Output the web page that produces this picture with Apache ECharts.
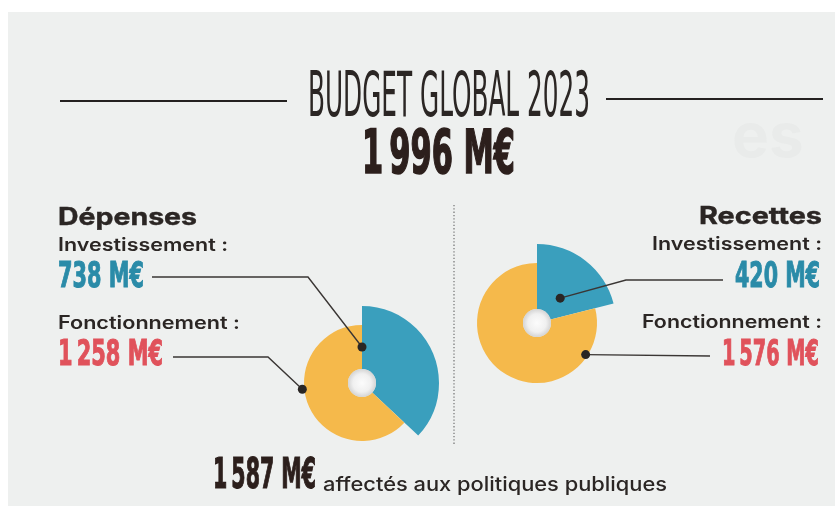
<!DOCTYPE html>
<html>
<head>
<meta charset="utf-8">
<script src="https://cdn.jsdelivr.net/npm/echarts@6/dist/echarts.min.js"></script>
<style>
  html, body { margin: 0; padding: 0; background: #ffffff; }
  #chart { width: 835px; height: 506px; }
</style>
</head>
<body>
<div id="chart"></div>
<script>
// Budget data (M€)
const categories = ['Investissement', 'Fonctionnement'];
const expenseValues = [738, 1258];   // Dépenses
const revenueValues = [420, 1576];   // Recettes
const totalBudget = 1996;
const publicPolicies = 1587;
const titleText = 'BUDGET GLOBAL 2023';

const BLUE = '#3a9fbd';
const YELLOW = '#f5b94b';
const TEAL_TEXT = '#2a8ba8';
const RED_TEXT = '#e0525b';
const DARK = '#2b2624';
const BROWN = '#2c1f1c';
const BG = '#eef0ef';

const NARROW = '"Liberation Sans Narrow", "DejaVu Sans Condensed", "Liberation Sans", sans-serif';
const SANS = '"Inter", "Noto Sans", "Liberation Sans", sans-serif';

function money(n) {
  if (n >= 1000) {
    return Math.floor(n / 1000) + '\u2009' + String(n % 1000).padStart(3, '0') + ' M€';
  }
  return n + ' M€';
}

const measureCtx = document.createElement('canvas').getContext('2d');
function textWidth(text, font) {
  measureCtx.font = font;
  return measureCtx.measureText(text).width;
}

// Text placed on its baseline, horizontally fitted to a given width
function fittedText(text, opts) {
  const font = (opts.weight || 'normal') + ' ' + opts.size + 'px ' + opts.family;
  const sx = opts.width ? opts.width / textWidth(text, font) : 1;
  const style = {
    text: text,
    font: font,
    fill: opts.color || DARK,
    align: opts.align || 'left',
    verticalAlign: 'middle'
  };
  if (opts.heavy) {
    style.stroke = opts.color || DARK;
    style.lineWidth = opts.heavy;
  }
  return {
    type: 'text',
    x: opts.x,
    y: opts.baseline - 0.35 * opts.size,
    scaleX: sx,
    silent: true,
    z: 10,
    style: style
  };
}

function polar(center, r, deg) {
  // deg measured clockwise from 12 o'clock
  const a = deg * Math.PI / 180;
  return [center[0] + r * Math.sin(a), center[1] - r * Math.cos(a)];
}

const leftCenter = [362, 383];
const rightCenter = [537, 323];
const holeR = 14;

function ringSeries(center, values, outerR, showIndex, color) {
  return {
    type: 'pie',
    center: center,
    radius: [holeR, outerR],
    startAngle: 90,
    clockwise: true,
    silent: true,
    animation: false,
    label: { show: false },
    labelLine: { show: false },
    emphasis: { disabled: true },
    itemStyle: { borderWidth: 0 },
    data: values.map((v, i) => ({
      name: categories[i],
      value: v,
      itemStyle: { color: i === showIndex ? color : 'rgba(0,0,0,0)' }
    }))
  };
}

function holeSeries(center) {
  return {
    type: 'pie',
    center: center,
    radius: [0, holeR],
    silent: true,
    animation: false,
    label: { show: false },
    labelLine: { show: false },
    emphasis: { disabled: true },
    data: [{
      value: 1,
      itemStyle: {
        color: {
          type: 'radial', x: 0.5, y: 0.5, r: 0.5,
          colorStops: [
            { offset: 0, color: '#fcfcfc' },
            { offset: 0.65, color: '#f0f0f0' },
            { offset: 1, color: '#d4d4d4' }
          ]
        }
      }
    }]
  };
}

function dot(p) {
  return { type: 'circle', shape: { cx: p[0], cy: p[1], r: 4.5 }, style: { fill: '#2a2624' }, silent: true, z: 12 };
}
function leader(points) {
  return { type: 'polyline', shape: { points: points }, style: { stroke: '#3a3634', lineWidth: 1.4, fill: null }, silent: true, z: 11 };
}

// Leader anchors on the rings
const lInvDot = polar(leftCenter, 36, 0);
const lFonDot = polar(leftCenter, 60, 264);
const rInvDot = polar(rightCenter, 34, 43);
const rFonDot = polar(rightCenter, 58, 123);

const graphics = [
  // paper
  { type: 'rect', shape: { x: 8, y: 12, width: 827, height: 494 }, style: { fill: BG }, silent: true, z: 0 },
  // faint show-through lettering
  { type: 'text', x: 732, y: 138, silent: true, z: 1,
    style: { text: 'es', font: 'bold 62px ' + SANS, fill: 'rgba(120,125,125,0.035)', verticalAlign: 'middle' } },
  // title rules
  { type: 'line', shape: { x1: 60, y1: 101, x2: 287, y2: 101 }, style: { stroke: '#242120', lineWidth: 2 }, silent: true, z: 5 },
  { type: 'line', shape: { x1: 606, y1: 99, x2: 823, y2: 99 }, style: { stroke: '#242120', lineWidth: 2 }, silent: true, z: 5 },
  fittedText(titleText, { x: 308, baseline: 122, size: 63, family: NARROW, weight: 'normal', width: 282, color: DARK }),
  fittedText(money(totalBudget), { x: 362, baseline: 178, size: 60, family: NARROW, weight: 'bold', width: 153, color: BROWN, heavy: 1.6 }),
  // divider
  { type: 'line', shape: { x1: 454, y1: 205, x2: 454, y2: 445 }, style: { stroke: '#7a7a7a', lineWidth: 1.3, lineDash: [1.3, 2] }, silent: true, z: 5 },

  // Dépenses block
  fittedText('Dépenses', { x: 58, baseline: 226, size: 24, family: SANS, weight: 'bold', width: 139, color: DARK, heavy: 0.4 }),
  fittedText(categories[0] + ' :', { x: 58, baseline: 252, size: 18, family: SANS, weight: '600', width: 170, color: DARK }),
  fittedText(money(expenseValues[0]), { x: 58, baseline: 290, size: 36, family: NARROW, weight: 'bold', width: 86, color: TEAL_TEXT, heavy: 1 }),
  fittedText(categories[1] + ' :', { x: 58, baseline: 330, size: 18, family: SANS, weight: '600', width: 182, color: DARK }),
  fittedText(money(expenseValues[1]), { x: 58, baseline: 368, size: 36, family: NARROW, weight: 'bold', width: 105, color: RED_TEXT, heavy: 1 }),

  // Recettes block
  fittedText('Recettes', { x: 822, baseline: 225, size: 24, family: SANS, weight: 'bold', width: 123, color: DARK, align: 'right', heavy: 0.4 }),
  fittedText(categories[0] + ' :', { x: 822, baseline: 251, size: 18, family: SANS, weight: '600', width: 170, color: DARK, align: 'right' }),
  fittedText(money(revenueValues[0]), { x: 820, baseline: 290, size: 36, family: NARROW, weight: 'bold', width: 85, color: TEAL_TEXT, align: 'right', heavy: 1 }),
  fittedText(categories[1] + ' :', { x: 822, baseline: 329, size: 18, family: SANS, weight: '600', width: 180, color: DARK, align: 'right' }),
  fittedText(money(revenueValues[1]), { x: 819, baseline: 368, size: 36, family: NARROW, weight: 'bold', width: 97, color: RED_TEXT, align: 'right', heavy: 1 }),

  // leaders
  leader([[152, 277], [308, 277], lInvDot]),
  dot(lInvDot),
  leader([[173, 357], [268, 357], lFonDot]),
  dot(lFonDot),
  leader([rInvDot, [626, 280], [723, 280]]),
  dot(rInvDot),
  leader([rFonDot, [710, 356]]),
  dot(rFonDot),

  // footer
  fittedText(money(publicPolicies), { x: 213, baseline: 492, size: 42, family: NARROW, weight: 'bold', width: 103, color: BROWN, heavy: 1.2 }),
  fittedText('affectés aux politiques publiques', { x: 323, baseline: 492, size: 20, family: SANS, weight: '500', width: 344, color: DARK })
];

const chart = echarts.init(document.getElementById('chart'), null, { renderer: 'canvas' });
chart.setOption({
  backgroundColor: '#ffffff',
  animation: false,
  graphic: { elements: graphics },
  series: [
    ringSeries(leftCenter, expenseValues, 77, 0, BLUE),
    ringSeries(leftCenter, expenseValues, 58, 1, YELLOW),
    holeSeries(leftCenter),
    ringSeries(rightCenter, revenueValues, 79, 0, BLUE),
    ringSeries(rightCenter, revenueValues, 60, 1, YELLOW),
    holeSeries(rightCenter)
  ]
});
</script>
</body>
</html>
